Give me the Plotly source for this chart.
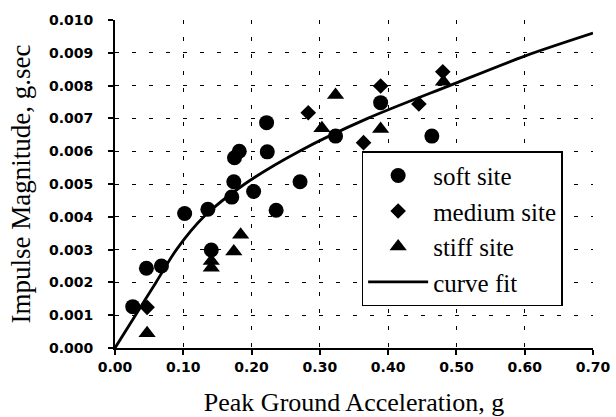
import plotly.graph_objects as go

# ---- data ----
soft_x = [0.026, 0.046, 0.068, 0.102, 0.136, 0.141, 0.171, 0.174, 0.175, 0.182,
          0.203, 0.222, 0.223, 0.236, 0.271, 0.323, 0.389, 0.464]
soft_y = [0.00126, 0.00243, 0.00250, 0.00410, 0.00423, 0.00299, 0.00460, 0.00507, 0.00580, 0.00600,
          0.00477, 0.00687, 0.00598, 0.00420, 0.00507, 0.00646, 0.00748, 0.00646]

medium_x = [0.047, 0.283, 0.364, 0.389, 0.445, 0.480]
medium_y = [0.00124, 0.00717, 0.00626, 0.00799, 0.00744, 0.00842]

stiff_x = [0.047, 0.141, 0.141, 0.174, 0.184, 0.303, 0.323, 0.389, 0.481]
stiff_y = [0.00045, 0.00265, 0.00245, 0.00294, 0.00345, 0.00670, 0.00771, 0.00668, 0.00812]

fit_x = [0.0, 0.03, 0.06, 0.09, 0.13, 0.19, 0.27, 0.37, 0.49, 0.60, 0.70]
fit_y = [0.0, 0.0010, 0.0020, 0.0030, 0.0040, 0.0050, 0.0060, 0.0070, 0.0080, 0.0089, 0.0096]

x_ticks = [0.0, 0.1, 0.2, 0.3, 0.4, 0.5, 0.6, 0.7]
y_ticks = [0.000, 0.001, 0.002, 0.003, 0.004, 0.005, 0.006, 0.007, 0.008, 0.009, 0.010]

SERIF = "Liberation Serif, Times New Roman, serif"
SANS = "DejaVu Sans, Arial, sans-serif"

fig = go.Figure()
fig.add_trace(go.Scatter(x=soft_x, y=soft_y, mode="markers", name="soft site",
                         marker=dict(symbol="circle", size=15, color="black")))
fig.add_trace(go.Scatter(x=medium_x, y=medium_y, mode="markers", name="medium site",
                         marker=dict(symbol="diamond", size=12, color="black")))
fig.add_trace(go.Scatter(x=stiff_x, y=stiff_y, mode="markers", name="stiff site",
                         marker=dict(symbol="triangle-up", size=15, color="black")))
fig.add_trace(go.Scatter(x=fit_x, y=fit_y, mode="lines", name="curve fit",
                         line=dict(color="black", width=2.8, shape="spline", smoothing=0.8)))

fig.update_layout(
    width=616, height=417,
    margin=dict(l=115, r=23, t=20, b=69),
    paper_bgcolor="white", plot_bgcolor="white",
    showlegend=True,
    legend=dict(x=0.516, y=0.600, xanchor="left", yanchor="top",
                bgcolor="white", bordercolor="black", borderwidth=1.5,
                font=dict(family=SERIF, size=25, color="black"),
                tracegroupgap=0, itemwidth=60),
    xaxis=dict(range=[0, 0.7], tickvals=x_ticks, tickformat=".2f", automargin=False,
               showline=True, linecolor="black", linewidth=2,
               ticks="outside", ticklen=5, tickcolor="black", tickwidth=1.5,
               showgrid=True, gridcolor="black", gridwidth=1.4, griddash="4px,13px",
               zeroline=False,
               tickfont=dict(family=SANS, size=14, color="black", weight="bold"),
               title=dict(text="Peak Ground Acceleration, g", standoff=20,
                          font=dict(family=SERIF, size=26, color="black"))),
    yaxis=dict(range=[0, 0.010], tickvals=y_ticks, tickformat=".3f", automargin=False,
               showline=True, linecolor="black", linewidth=2,
               ticks="outside", ticklen=5, tickcolor="black", tickwidth=1.5,
               showgrid=True, gridcolor="black", gridwidth=1.4, griddash="4px,13px",
               zeroline=False, ticklabelstandoff=12,
               tickfont=dict(family=SANS, size=14, color="black", weight="bold"),
               title=dict(text="Impulse Magnitude, g.sec", standoff=10,
                          font=dict(family=SERIF, size=27, color="black"))),
)

fig.write_html("out.html", config={"displayModeBar": False},
               post_script="document.body.style.margin='0';document.body.style.padding='0';")
